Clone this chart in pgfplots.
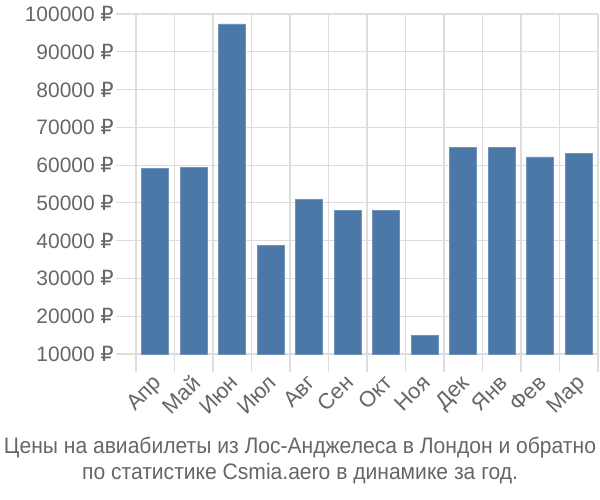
\documentclass[border=0pt]{standalone}
\usepackage{fontspec}
\setmainfont{Liberation Sans}
\newfontfamily\narrow[FakeStretch=0.94]{Liberation Sans}
\newfontfamily\rub{DejaVu Sans}
\newcommand{\R}{{\rub ₽}}
\usepackage{pgfplots}
\pgfplotsset{compat=1.18}
\definecolor{barblue}{HTML}{4C78A8}
\definecolor{gridgray}{HTML}{DDDDDD}
\definecolor{axisgray}{HTML}{A8A8A8}
\definecolor{textgray}{HTML}{666666}
\begin{document}
\begin{tikzpicture}
\path[use as bounding box] (0,0) rectangle (600bp,500bp);
\begin{axis}[
    at={(136bp,146bp)}, anchor=south west,
    scale only axis,
    width=462bp, height=340bp,
    xmin=-0.5, xmax=11.5,
    ymin=10000, ymax=100000,
    scaled y ticks=false,
    axis x line*=bottom,
    axis y line*=left,
    x axis line style={draw=gridgray, line width=1.2bp, -},
    y axis line style={draw=axisgray, line width=1.6bp, -},
    tick align=outside,
    major tick length=20bp,
    xtick={0,...,11},
    xticklabels={Апр,Май,Июн,Июл,Авг,Сен,Окт,Ноя,Дек,Янв,Фев,Мар},
    xtick style={draw=none},
    extra x ticks={-0.5,0.5,...,11.5},
    extra x tick labels={},
    extra x tick style={grid=major, xtick style={draw=gridgray, line width=1.2bp}, major tick length=18bp},
    ytick={10000,20000,...,100000},
    yticklabels={10000 \R,20000 \R,30000 \R,40000 \R,50000 \R,60000 \R,70000 \R,80000 \R,90000 \R,100000 \R},
    ytick style={draw=gridgray, line width=1.2bp},
    ymajorgrids=true,
    grid style={draw=gridgray, line width=1.2bp},
    yticklabel style={font=\fontsize{21}{24}\selectfont, text=textgray, inner sep=2bp},
    xticklabel style={font=\fontsize{22}{24}\selectfont, text=textgray, rotate=45, anchor=north east, inner sep=2bp, yshift=5bp},
    clip=false,
]
\addplot[ybar, bar width=27bp, fill=barblue, draw=barblue!80!white, line width=0.6bp, bar shift=0pt]
  coordinates {(0,59200)(1,59400)(2,97400)(3,38700)(4,50900)(5,48000)(6,48000)(7,15000)(8,64600)(9,64600)(10,62200)(11,63100)};
\end{axis}
\node[text=textgray, font=\narrow\fontsize{22.5}{24}\selectfont, inner sep=0pt] at (300bp,52bp) {Цены на авиабилеты из Лос-Анджелеса в Лондон и обратно};
\node[text=textgray, font=\narrow\fontsize{22.5}{24}\selectfont, inner sep=0pt] at (300bp,26bp) {по статистике Csmia.aero в динамике за год.};
\end{tikzpicture}
\end{document}
